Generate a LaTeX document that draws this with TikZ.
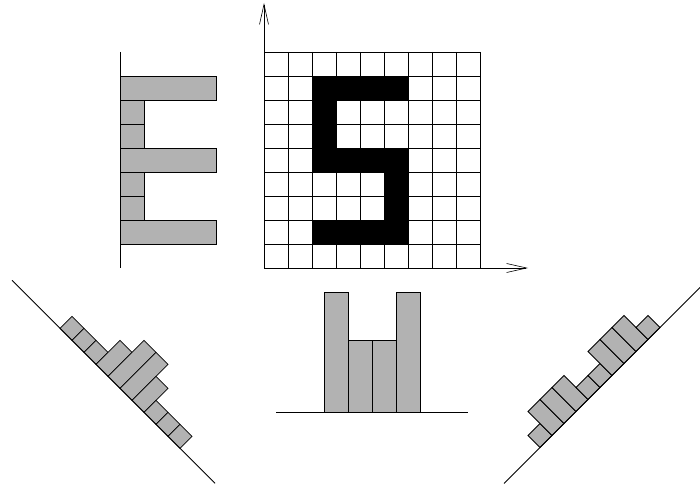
\documentclass[tikz,border=0pt]{standalone}
\usetikzlibrary{arrows.meta}
\begin{document}
\begin{tikzpicture}[x=1pt,y=-1pt,
  bar/.style={draw=black, fill=black!30, line width=0.8pt, line join=miter},
  cell/.style={draw=black, line width=0.8pt},
  baseline/.style={draw=black, line width=0.8pt},
  axisarrow/.style={draw=black, line width=0.6pt, -{Straight Barb[length=20pt,width=9pt,line width=0.6pt]}}]
\useasboundingbox (0,0) rectangle (700,489);
% black S pixels
\fill[black] (312,76) rectangle (408,100);
\fill[black] (312,100) rectangle (336,148);
\fill[black] (312,148) rectangle (408,172);
\fill[black] (384,172) rectangle (408,220);
\fill[black] (312,220) rectangle (408,244);
% grid
\foreach \i in {0,...,9} {
  \draw[cell] ({264+24*\i},52) -- ({264+24*\i},268);
  \draw[cell] (264,{52+24*\i}) -- (480,{52+24*\i});
}
% axes
\coordinate (o) at (264,268);
\coordinate (ytip) at (264,3);
\coordinate (xtip) at (528,268);
\draw[axisarrow] (o) -- (ytip);
\draw[axisarrow] (o) -- (xtip);
% left (row) histogram
\draw[baseline] (120,52) -- (120,268);
\draw[bar] (120,76) rectangle (216,100);
\draw[bar] (120,100) rectangle (144,124);
\draw[bar] (120,124) rectangle (144,148);
\draw[bar] (120,148) rectangle (216,172);
\draw[bar] (120,172) rectangle (144,196);
\draw[bar] (120,196) rectangle (144,220);
\draw[bar] (120,220) rectangle (216,244);
% bottom (column) histogram
\draw[bar] (324,412) rectangle (348,292);
\draw[bar] (348,412) rectangle (372,340);
\draw[bar] (372,412) rectangle (396,340);
\draw[bar] (396,412) rectangle (420,292);
\draw[baseline] (276,412) -- (468,412);
% left diagonal histogram
\foreach \h [count=\k from 0] in {1,1,1,2,3,3,2,1,1,1} {
  \draw[bar] ({60+12*\k},{328.4+12*\k}) -- ++(12,12) -- ++({12*\h},{-12*\h}) -- ++(-12,-12) -- cycle;
}
\draw[baseline] (12,280.3) -- (215,483.3);
% right diagonal histogram
\foreach \h [count=\k from 0] in {1,2,2,2,1,1,2,2,2,1} {
  \draw[bar] ({540+12*\k},{447.5-12*\k}) -- ++(12,-12) -- ++({-12*\h},{-12*\h}) -- ++(-12,12) -- cycle;
}
\draw[baseline] (504,483.5) -- (700,287.5);
\end{tikzpicture}
\end{document}
